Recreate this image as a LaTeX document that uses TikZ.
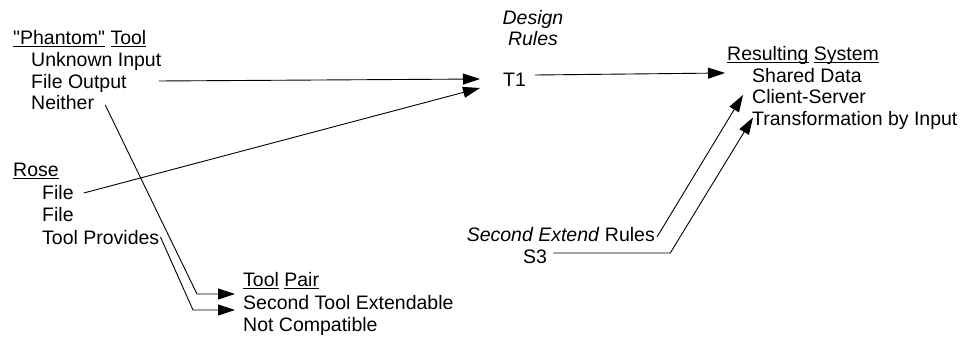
\documentclass[tikz,border=0pt]{standalone}
\usepackage{fontspec}
\newfontfamily\mainf{Liberation Sans}
\usetikzlibrary{arrows.meta}
\newcommand\uln[1]{\setbox0\hbox{#1}\rlap{\rule[-2.5pt]{\wd0}{1.2pt}}\box0\relax}
\begin{document}
\begin{tikzpicture}[x=1pt,y=-1pt,
  txt/.style={inner sep=0pt, anchor=base west, font=\mainf\fontsize{19.5}{22}\selectfont},
  conn/.style={line width=0.9pt},
  arr/.style={conn, -{Triangle[length=17pt,width=11pt]}}]
\useasboundingbox (0,0) rectangle (962,339);
% left group: Phantom tool
\node[txt] (ph) at (13,45) {\uln{"Phantom"} \uln{Tool}};
\node[txt] (unk) at (31,67) {Unknown Input};
\node[txt] (fout) at (31,88.5) {File Output};
\node[txt] (nei) at (31,110) {Neither};
% Rose
\node[txt] (rose) at (13,177) {\uln{Rose}};
\node[txt] (f1) at (42,199.5) {File};
\node[txt] (f2) at (42,222) {File};
\node[txt] (tp) at (42,245) {Tool Provides};
% Tool pair
\node[txt] (tpair) at (243,287) {\uln{Tool} \uln{Pair}};
\node[txt] (ste) at (243,309.5) {Second Tool Extendable};
\node[txt] (nc) at (243,332) {Not Compatible};
% Design rules
\node[txt, anchor=base] (design) at (533,25) {\itshape Design};
\node[txt, anchor=base] (rules) at (533,46) {\itshape Rules};
\node[txt] (t1) at (503,87) {T1};
% Resulting system
\node[txt] (rs) at (727,61) {\uln{Resulting} \uln{System}};
\node[txt] (sd) at (752,82.5) {Shared Data};
\node[txt] (cs) at (752,104) {Client-Server};
\node[txt] (tbi) at (752,125.5) {Transformation by Input};
% Second extend rules
\node[txt, anchor=base east] (ser) at (655,242) {\textit{Second Extend} Rules};
\node[txt] (s3) at (523,264) {S3};
% connectors
\draw[arr] ([shift={(32,-7.5)}]fout.base east) -- ([shift={(-23,-8)}]t1.base west);
\draw[arr] ([shift={(10,-6.5)}]f1.base east) -- ([shift={(-23,1)}]t1.base west);
\draw[arr] ([shift={(11,-5)}]nei.base east) -- ([shift={(-46,-15.5)}]ste.base west) -- ([shift={(-8,-15.5)}]ste.base west);
\draw[arr] ([shift={(1,-8)}]tp.base east) -- ([shift={(-50,0.5)}]ste.base west) -- ([shift={(-8,0.5)}]ste.base west);
\draw[arr] ([shift={(9,-12)}]t1.base east) -- ([shift={(-2,12)}]rs.base west);
\draw[arr] ([shift={(2,-5)}]ser.base east) -- ([shift={(-9,-9)}]cs.base west);
\draw[arr] ([shift={(6,-11)}]s3.base east) -- ++(117,0) -- ([shift={(1,-8)}]tbi.base west);
\end{tikzpicture}
\end{document}
